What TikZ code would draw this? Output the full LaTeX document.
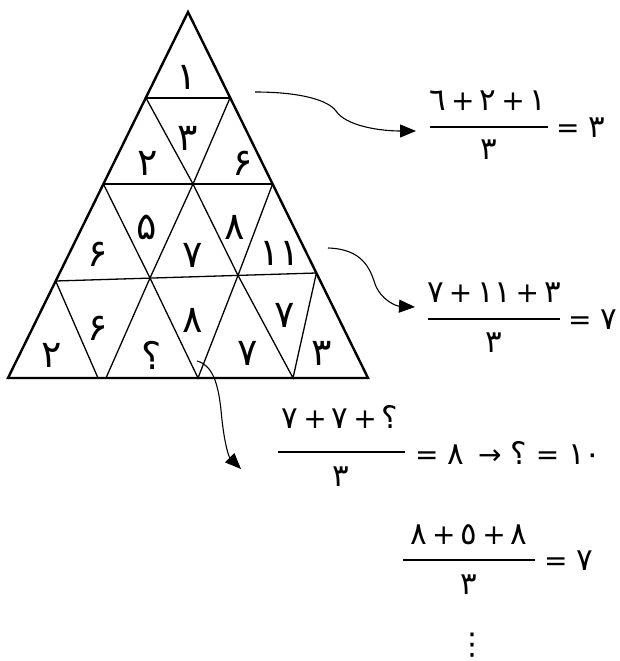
\documentclass[tikz,border=0pt]{standalone}
\usepackage{fontspec}
\newfontfamily\fa{DejaVu Sans}
\usetikzlibrary{arrows.meta}
\newcommand\dg[1]{{\fontsize{31}{33}\selectfont #1}}
\newcommand\pl{\hspace{5pt}+\hspace{5pt}}
\begin{document}
\begin{tikzpicture}[x=1pt,y=-1pt,
  cellnum/.style={font=\fa\fontsize{38}{40}\selectfont, inner sep=0pt},
  eqtext/.style={font=\fa\fontsize{28}{30}\selectfont, inner sep=0pt},
  outer/.style={line width=2.4pt, line join=miter},
  inner/.style={line width=1.3pt},
  fracbar/.style={line width=1.8pt},
  curvearrow/.style={line width=1.1pt, -{Triangle[length=16pt,width=13pt]}}]
\useasboundingbox (0,0) rectangle (620,661);
% vertices
\coordinate (A) at (188,12);
\coordinate (BL) at (8,378);
\coordinate (BR) at (368,378);
\coordinate (a1) at (146,98);   \coordinate (b1) at (230,98);
\coordinate (a2) at (103.4,184); \coordinate (m2) at (193,184); \coordinate (b2) at (272.6,184);
\coordinate (a3) at (55.7,281); \coordinate (p1) at (150,278); \coordinate (p2) at (238,275.4); \coordinate (b3) at (316.4,273);
\coordinate (q1) at (98,378); \coordinate (q2) at (106,378); \coordinate (q3) at (198,378); \coordinate (q4) at (293,378);
% inner lines
\draw[inner] (a1) -- (b1);
\draw[inner] (a2) -- (b2);
\draw[inner] (a3) -- (b3);
\draw[inner] (a1) -- (m2) -- (b1);
\draw[inner] (a2) -- (p1) -- (m2) -- (p2) -- (b2);
\draw[inner] (a3) -- (q1);
\draw[inner] (q2) -- (p1) -- (q3) -- (p2) -- (q4) -- (b3);
% outer triangle
\draw[outer] (A) -- (BL) -- (BR) -- cycle;
% cell numbers
\node[cellnum] (c1) at (187,77) {۱};
\node[cellnum] (c2) at (188,138) {۳};
\node[cellnum] (c3) at (148,163) {۲};
\node[cellnum] (c4) at (243,163) {۶};
\node[cellnum] (c5) at (98,254) {۶};
\node[cellnum] (c6) at (147,227) {۵};
\node[cellnum] (c7) at (193,255) {۷};
\node[cellnum] (c8) at (235,227) {۸};
\node[cellnum] (c9) at (280,253) {۱۱};
\node[cellnum] (c10) at (98,328) {۶};
\node[cellnum] (c11) at (52,355) {۲};
\node[cellnum] (c12) at (152,355) {؟};
\node[cellnum] (c13) at (193,320) {۸};
\node[cellnum] (c14) at (248,353) {۷};
\node[cellnum] (c15) at (285,315) {۷};
\node[cellnum] (c16) at (322,353) {۳};
% formula 1
\node[eqtext] (n1) at (488,101) {\dg{٦}\pl\dg{۲}\pl\dg{۱}};
\draw[fracbar] (430,127) coordinate (l1) -- (548,127) coordinate (r1);
\node[eqtext] (d1) at (489,150) {\dg{۳}};
\node[eqtext, anchor=west] (e1) at (556,128) {= \dg{۳}};
% formula 2
\node[eqtext] (n2) at (494,293) {\dg{۷}\pl\dg{۱۱}\pl\dg{۳}};
\draw[fracbar] (428,319) coordinate (l2) -- (560,319) coordinate (r2);
\node[eqtext] (d2) at (494,343) {\dg{۳}};
\node[eqtext, anchor=west] (e2) at (568,320) {= \dg{۷}};
% formula 3
\node[eqtext] (n3) at (340,417) {\dg{۷}\pl\dg{۷}\pl\dg{؟}};
\draw[fracbar] (278,452) coordinate (l3) -- (405,452) coordinate (r3);
\node[eqtext] (d3) at (341,477) {\dg{۳}};
\node[eqtext, anchor=west] (e3) at (415,453) {= \dg{۸}\hspace{14pt}→ \dg{؟} = \dg{۱۰}};
% formula 4
\node[eqtext] (n4) at (469,535) {\dg{۸}\pl\dg{٥}\pl\dg{۸}};
\draw[fracbar] (403,560) coordinate (l4) -- (535,560) coordinate (r4);
\node[eqtext] (d4) at (469,585) {\dg{۳}};
\node[eqtext, anchor=west] (e4) at (544,561) {= \dg{۷}};
\node[font=\fa\fontsize{30}{32}\selectfont, inner sep=0pt] (dots) at (472,645) {⋮};
% arrows
\coordinate (s1) at (255,92);
\coordinate (t1) at (416,131);
\coordinate (s2) at (328,248);
\coordinate (t2) at (415,307);
\coordinate (s3) at (197,361);
\coordinate (t3) at (241,469);
\draw[curvearrow] (s1) .. controls (300,92) and (328,100) .. (336,111)
  .. controls (346,126) and (380,131) .. (t1);
\draw[curvearrow] (s2) .. controls (362,249) and (370,268) .. (375,284)
  .. controls (381,300) and (396,306) .. (t2);
\draw[curvearrow] (s3) .. controls (212,365) and (218,382) .. (221,410)
  .. controls (224,444) and (229,457) .. (t3);
\end{tikzpicture}
\end{document}
